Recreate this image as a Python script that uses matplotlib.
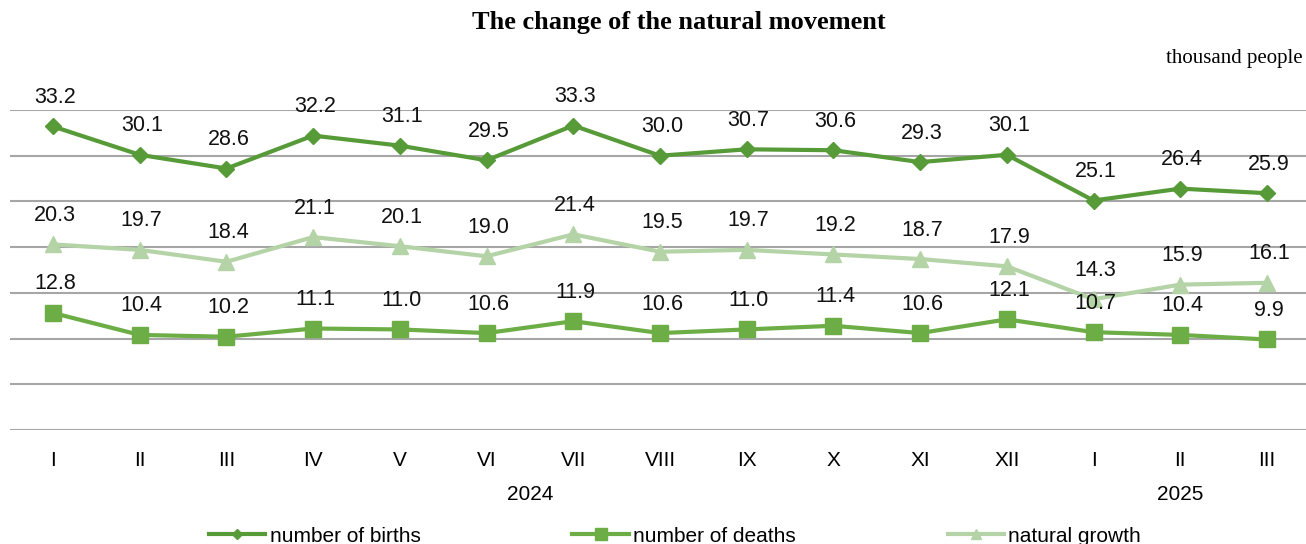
import matplotlib.pyplot as plt
from matplotlib.lines import Line2D
import matplotlib.transforms as mtransforms

# months, Jan 2024 .. Mar 2025
months = ["I", "II", "III", "IV", "V", "VI", "VII", "VIII", "IX", "X", "XI", "XII",
          "I", "II", "III"]
births = [33.2, 30.1, 28.6, 32.2, 31.1, 29.5, 33.3, 30.0, 30.7, 30.6, 29.3, 30.1,
          25.1, 26.4, 25.9]
deaths = [12.8, 10.4, 10.2, 11.1, 11.0, 10.6, 11.9, 10.6, 11.0, 11.4, 10.6, 12.1,
          10.7, 10.4, 9.9]
growth = [20.3, 19.7, 18.4, 21.1, 20.1, 19.0, 21.4, 19.5, 19.7, 19.2, 18.7, 17.9,
          14.3, 15.9, 16.1]
years = ["2024", "2025"]
year_pos = [5.5, 13]

c_births = "#579a38"
c_deaths = "#6cad46"
c_growth = "#b4d3a6"

plt.rcParams['font.family'] = ['Liberation Sans', 'DejaVu Sans']

fig = plt.figure(figsize=(13.06, 5.44), dpi=100)
ax = fig.add_axes([10 / 1306, 1 - 430 / 544, 1296 / 1306, 320 / 544])

x = list(range(len(months)))
ax.plot(x, births, color=c_births, lw=3, marker="D", ms=8, zorder=3)
ax.plot(x, deaths, color=c_deaths, lw=3, marker="s", ms=11, zorder=3)
ax.plot(x, growth, color=c_growth, lw=3, marker="^", ms=11, zorder=3)

for series in (births, deaths, growth):
    for xi, v in zip(x, series):
        ax.annotate(f"{v:.1f}", (xi, v), xytext=(2, 29), textcoords="offset pixels",
                    ha="center", va="center", fontsize=15.5, color="#111111", zorder=4)

ax.set_xlim(-0.496, 14.45)
ax.set_ylim(0, 35)
ax.set_yticks(range(0, 36, 5))
ax.yaxis.grid(True, color="#a6a6a6", lw=1.5)
ax.set_axisbelow(True)
ax.tick_params(axis="y", left=False, labelleft=False)
ax.set_xticks(x)
ax.set_xticklabels(months, fontsize=15)
ax.tick_params(axis="x", length=0, pad=15)
for s in ax.spines.values():
    s.set_visible(False)

trans = mtransforms.blended_transform_factory(ax.transData, fig.transFigure)
for yr, p in zip(years, year_pos):
    ax.text(p, 1 - 495 / 544, yr, transform=trans, ha="center", va="center",
            fontsize=15)

fig.text(679 / 1306, 1 - 22 / 544, "The change of the natural movement", ha="center",
         va="center", fontsize=19, fontweight="bold", family="Liberation Serif")
fig.text(1303 / 1306, 1 - 58 / 544, "thousand people", ha="right", va="center",
         fontsize=15, family="Liberation Serif")

handles = [
    Line2D([], [], color=c_births, lw=3, marker="D", ms=5),
    Line2D([], [], color=c_deaths, lw=3, marker="s", ms=8),
    Line2D([], [], color=c_growth, lw=3, marker="^", ms=7),
]
fig.legend(handles, ["number of births", "number of deaths", "natural growth"],
           loc="center", bbox_to_anchor=(0.5 + 22 / 1306, 1 - 536 / 544), ncol=3,
           frameon=False, fontsize=15, handlelength=2.7, handletextpad=0.2,
           columnspacing=7.3)

fig.savefig("out.png", dpi=100)
